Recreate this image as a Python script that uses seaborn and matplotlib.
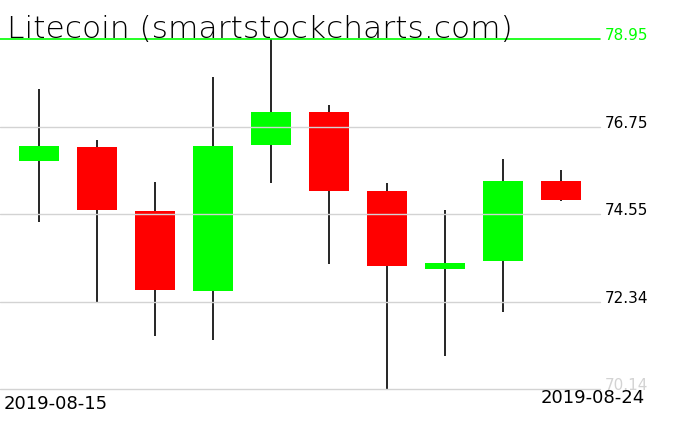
import matplotlib
matplotlib.use("Agg")
import matplotlib.pyplot as plt
import matplotlib.transforms as mtransforms
import numpy as np
import pandas as pd
import seaborn as sns

sns.set_style("white")
plt.rcParams['font.family'] = ['DejaVu Sans']
plt.rcParams['text.color'] = 'black'

dates = ['2019-08-15', '2019-08-16', '2019-08-17', '2019-08-18', '2019-08-19',
         '2019-08-20', '2019-08-21', '2019-08-22', '2019-08-23', '2019-08-24']
opens = [75.89, 76.23, 74.62, 72.61, 76.29, 77.11, 75.12, 73.16, 73.37, 75.38]
highs = [77.69, 76.41, 75.35, 77.99, 78.95, 77.29, 75.33, 74.65, 75.93, 75.65]
lows = [74.35, 72.31, 71.48, 71.38, 75.33, 73.30, 70.14, 70.98, 72.09, 74.89]
closes = [76.26, 74.65, 72.64, 76.26, 77.11, 75.13, 73.24, 73.31, 75.38, 74.91]

levels = [78.95, 76.75, 74.55, 72.34, 70.14]
level_colors = ['#00ff00', 'black', 'black', 'black', 'lightgray']

df = pd.DataFrame({'date': dates, 'open': opens, 'high': highs,
                   'low': lows, 'close': closes})
df['x'] = np.arange(len(df))
df['up'] = df['close'] >= df['open']

fig = plt.figure(figsize=(6.76, 4.31), dpi=100)
ax = fig.add_axes([0, 0.094, 600 / 676, 0.8132])

# wicks
ax.vlines(df['x'], df['low'], df['high'], color='black', lw=1.2, zorder=2)
# bodies
body_bottom = df[['open', 'close']].min(axis=1)
body_height = (df['close'] - df['open']).abs()
colors = np.where(df['up'], '#00ff00', '#ff0000')
ax.bar(df['x'], body_height, bottom=body_bottom, width=0.69,
       color=colors, linewidth=0, zorder=3)

# horizontal levels
for lv in levels[1:]:
    ax.axhline(lv, color='lightgray', lw=1, zorder=4, clip_on=False)
ax.axhline(levels[0], color='#00ff00', lw=1.2, zorder=4, clip_on=False)

trans = mtransforms.blended_transform_factory(ax.transAxes, ax.transData)
for lv, c in zip(levels, level_colors):
    ax.text(1.008, lv, '{:.2f}'.format(lv), color=c, fontsize=11,
            va='baseline', ha='left', transform=trans, clip_on=False)

ax.set_xlim(-0.678, 9.667)
ax.set_ylim(levels[-1], levels[0])
ax.set_xticks([])
ax.set_yticks([])
for s in ax.spines.values():
    s.set_visible(False)
ax.patch.set_alpha(0)

fig.text(7 / 676, 1 - 38.5 / 431, 'Litecoin (smartstockcharts.com)',
         fontsize=22.5, fontweight='light', color='black',
         va='baseline', ha='left')
fig.text(4 / 676, 1 - 395 / 431, dates[0], fontsize=13, color='black',
         va='top', ha='left')
fig.text(645 / 676, 1 - 389 / 431, dates[-1], fontsize=13, color='black',
         va='top', ha='right')

fig.savefig('out.png', dpi=100, facecolor='white')
